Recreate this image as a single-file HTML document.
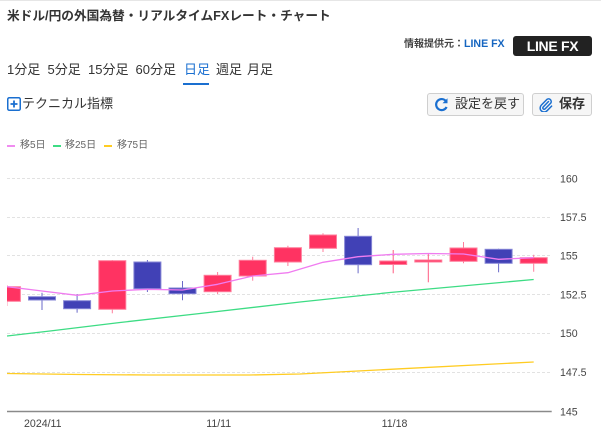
<!DOCTYPE html>
<html><head><meta charset="utf-8"><style>
*{margin:0;padding:0;box-sizing:border-box}
body{width:601px;height:432px;background:#fff;position:relative;overflow:hidden;font-family:"Liberation Sans","Noto Sans CJK JP",sans-serif;color:#333}
.a{position:absolute;white-space:nowrap}
.topline{position:absolute;left:0;top:0;width:601px;height:1px;background:#e6e6e6}
.title{left:7px;top:8px;font-size:12.7px;font-weight:bold;line-height:16px;color:#333}
.info{left:404px;top:38px;font-size:10px;line-height:12px;font-weight:bold;color:#444}
.info b{color:#1565c0;font-size:10.6px}
.badge{left:513px;top:36px;width:79px;height:20px;background:#222;border-radius:3px;color:#fff;font-weight:bold;font-size:14px;line-height:20px;text-align:center;letter-spacing:-0.3px}
.tab{top:62px;font-size:13px;line-height:16px;color:#333}
.ul{left:183px;top:83px;width:26px;height:2px;background:#1a6fd0}
.btn{top:93px;height:23px;background:#f6f6f6;border:1px solid #cfcfcf;border-radius:3px}
.lg{top:140px;font-size:10px;line-height:12px;color:#666}
.dash{position:absolute;top:145px;width:8px;height:2px}
</style></head><body>
<div class="topline"></div>
<div class="a title">米ドル/円の外国為替・リアルタイムFXレート・チャート</div>
<div class="a info">情報提供元：<b>LINE FX</b></div>
<div class="a badge">LINE FX</div>

<div class="a tab" style="left:7px">1分足</div>
<div class="a tab" style="left:47.5px">5分足</div>
<div class="a tab" style="left:88px">15分足</div>
<div class="a tab" style="left:135.5px">60分足</div>
<div class="a tab" style="left:184px;color:#1a6fd0">日足</div>
<div class="a tab" style="left:216px">週足</div>
<div class="a tab" style="left:247px">月足</div>
<div class="ul a"></div>

<svg class="a" style="left:7px;top:97px" width="14" height="14" viewBox="0 0 14 14">
<rect x="0.75" y="0.75" width="12.5" height="12.5" rx="1.5" fill="#fff" stroke="#1a6fd0" stroke-width="1.5"/>
<path d="M7 3.5V10.5M3.5 7H10.5" stroke="#1a6fd0" stroke-width="1.8"/>
</svg>
<div class="a" style="left:22px;top:96px;font-size:13px;line-height:16px;color:#333">テクニカル指標</div>

<div class="a btn" style="left:427px;width:97px"></div>
<svg class="a" style="left:434px;top:97px" width="15" height="15" viewBox="0 0 15 15">
<path d="M12 4.2A5.5 5.5 0 1 0 12.6 10" fill="none" stroke="#1a6fd0" stroke-width="2.2"/>
<path d="M13.5 1.2V6.2H8.5Z" fill="#1a6fd0"/>
</svg>
<div class="a" style="left:455px;top:96px;font-size:13px;line-height:16px;color:#333">設定を戻す</div>

<div class="a btn" style="left:532px;width:60px"></div>
<svg class="a" style="left:539px;top:97px" width="14" height="15" viewBox="0 0 14 15">
<path d="M9.5 4.5L4.2 10a1.3 1.3 0 0 0 1.9 1.9L11.6 6.3a2.7 2.7 0 0 0-3.8-3.8L2.3 8.1a4 4 0 0 0 5.7 5.7l4.6-4.7" fill="none" stroke="#1a6fd0" stroke-width="1.5" stroke-linecap="round"/>
</svg>
<div class="a" style="left:559px;top:96px;font-size:13px;line-height:16px;font-weight:bold;color:#333">保存</div>

<div class="dash" style="left:7px;background:#f08cf0"></div>
<div class="a lg" style="left:20px">移5日</div>
<div class="dash" style="left:53px;background:#3ddc84"></div>
<div class="a lg" style="left:65px">移25日</div>
<div class="dash" style="left:104px;background:#ffcc22"></div>
<div class="a lg" style="left:117px">移75日</div>

<svg class="a" style="left:0;top:0" width="601" height="432" viewBox="0 0 601 432">
<defs><clipPath id="c"><rect x="7" y="160" width="544.7" height="255"/></clipPath></defs>
<g stroke="#e2e2e2" stroke-width="1" stroke-dasharray="3 2">
<line x1="7" x2="551" y1="178.5" y2="178.5"/>
<line x1="7" x2="551" y1="217.5" y2="217.5"/>
<line x1="7" x2="551" y1="255.5" y2="255.5"/>
<line x1="7" x2="551" y1="294.5" y2="294.5"/>
<line x1="7" x2="551" y1="333.5" y2="333.5"/>
<line x1="7" x2="551" y1="372.5" y2="372.5"/>
</g>
<line x1="7" x2="551.7" y1="411.5" y2="411.5" stroke="#8a8a8a" stroke-width="1.5"/>
<g font-family="Liberation Sans, sans-serif" font-size="10.6" fill="#444">
<text x="560" y="182.3">160</text>
<text x="560" y="221">157.5</text>
<text x="560" y="259.5">155</text>
<text x="560" y="298.3">152.5</text>
<text x="560" y="337">150</text>
<text x="560" y="375.8">147.5</text>
<text x="560" y="415.3">145</text>
<text x="42.8" y="427" text-anchor="middle">2024/11</text>
<text x="218.7" y="427" text-anchor="middle">11/11</text>
<text x="394.5" y="427" text-anchor="middle">11/18</text>
</g>
<g clip-path="url(#c)">
<polyline fill="none" stroke="#ffcc22" stroke-width="1.3" points="7,373.5 80,374.5 150,375 250,375 300,374 400,368.8 533.7,362"/>
<polyline fill="none" stroke="#3ddc84" stroke-width="1.3" points="7,336 50,331 120,322.5 200,313.5 300,302 390,292.5 533.7,279.5"/>
<g stroke-width="1">
<g fill="#ff3362" stroke="#ff7d9b">
<line x1="6.9" x2="6.9" y1="285" y2="306"/><rect x="-6.6" y="286.7" width="27" height="14.6"/>
<line x1="112.3" x2="112.3" y1="260" y2="313.3"/><rect x="98.8" y="260.7" width="27" height="48.6"/>
<line x1="217.6" x2="217.6" y1="272" y2="294"/><rect x="204.1" y="275.3" width="27" height="16.4"/>
<line x1="252.7" x2="252.7" y1="256.7" y2="280.7"/><rect x="239.2" y="260.3" width="27" height="15.7"/>
<line x1="287.9" x2="287.9" y1="245.7" y2="266"/><rect x="274.4" y="247.7" width="27" height="14.3"/>
<line x1="323" x2="323" y1="233.3" y2="252"/><rect x="309.5" y="235" width="27" height="13.3"/>
<line x1="393.2" x2="393.2" y1="250" y2="273.3" stroke="#ff5a80"/><rect x="379.7" y="261" width="27" height="3.5"/>
<line x1="428.3" x2="428.3" y1="253.3" y2="282.3" stroke="#ff5a80"/><rect x="414.8" y="260" width="27" height="2"/>
<line x1="463.5" x2="463.5" y1="242" y2="263.3"/><rect x="450" y="248" width="27" height="13.3"/>
<line x1="533.7" x2="533.7" y1="254.7" y2="271.7"/><rect x="520.2" y="257.7" width="27" height="5.6"/>
</g>
<g fill="#4141b6" stroke="#8686d6">
<line x1="42" x2="42" y1="292.7" y2="310" stroke="#6a6ac8"/><rect x="28.5" y="296.7" width="27" height="3.3"/>
<line x1="77.1" x2="77.1" y1="294" y2="312.7" stroke="#6a6ac8"/><rect x="63.6" y="300.7" width="27" height="8"/>
<line x1="147.4" x2="147.4" y1="260" y2="292" stroke="#6a6ac8"/><rect x="133.9" y="262" width="27" height="26.7"/>
<line x1="182.5" x2="182.5" y1="281" y2="300.3" stroke="#6a6ac8"/><rect x="169" y="288" width="27" height="5.7"/>
<line x1="358.1" x2="358.1" y1="228" y2="273.3" stroke="#6a6ac8"/><rect x="344.6" y="236.3" width="27" height="28.4"/>
<line x1="498.6" x2="498.6" y1="248.7" y2="272.3" stroke="#6a6ac8"/><rect x="485.1" y="249.3" width="27" height="14"/>
</g>
</g>
<polyline fill="none" stroke="#f07cf0" stroke-width="1.3" stroke-linejoin="round" points="7,286.7 42,291 77.1,295.3 112.3,291 147.4,289.3 182.5,290 217.6,284.3 252.7,276 287.9,272.7 323,262.3 358.1,256.7 393.2,254.3 428.3,253.5 463.5,254 498.6,259.3 533.7,257.7"/>
</g>
</svg>
</body></html>
